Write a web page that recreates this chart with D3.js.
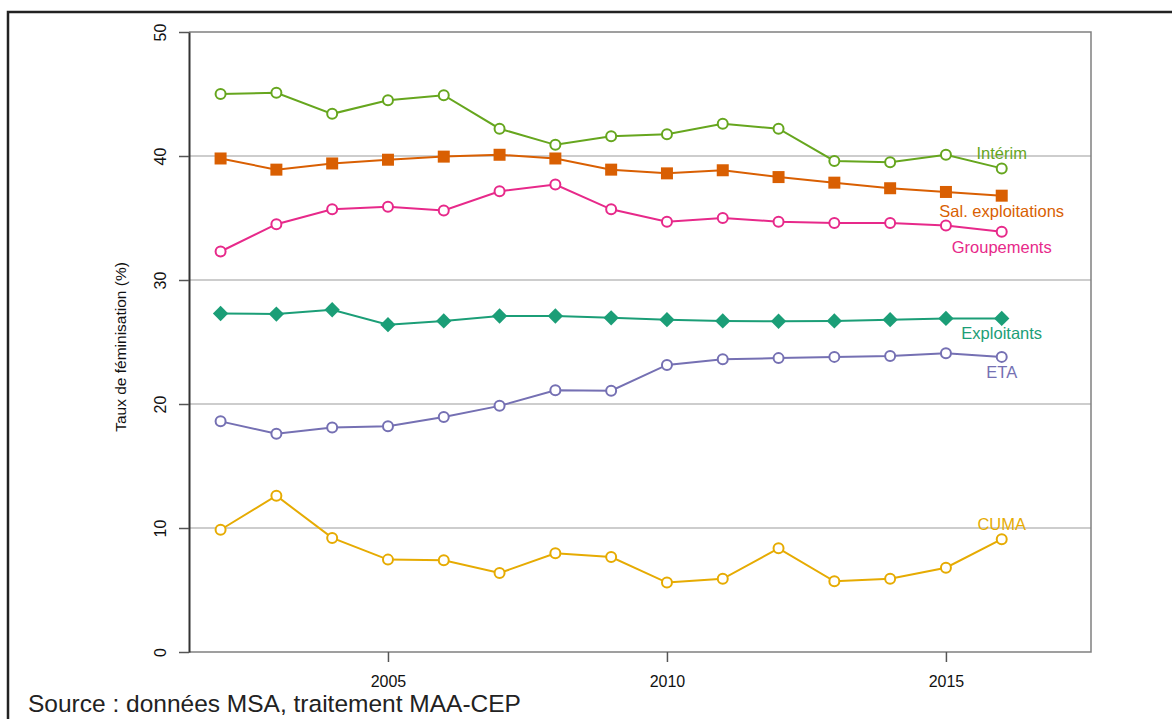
<!DOCTYPE html>
<html>
<head>
<meta charset="utf-8">
<script src="https://cdn.jsdelivr.net/npm/d3@7"></script>
<style>
  body { margin: 0; background: #fff; }
  svg { font-family: "Liberation Sans", Arial, sans-serif; }
</style>
</head>
<body>
<div id="chart"></div>
<script>
// annees et series (taux de feminisation, %)
const years = [2002, 2003, 2004, 2005, 2006, 2007, 2008, 2009, 2010, 2011, 2012, 2013, 2014, 2015, 2016];
const interim = [45.0, 45.1, 43.4, 44.5, 44.9, 42.2, 40.9, 41.6, 41.75, 42.6, 42.2, 39.6, 39.5, 40.1, 39.0];
const salExploitations = [39.8, 38.9, 39.4, 39.7, 39.95, 40.1, 39.8, 38.9, 38.6, 38.85, 38.3, 37.85, 37.4, 37.1, 36.8];
const groupements = [32.3, 34.5, 35.7, 35.9, 35.6, 37.15, 37.7, 35.7, 34.7, 35.0, 34.7, 34.6, 34.6, 34.4, 33.9];
const exploitants = [27.3, 27.25, 27.6, 26.4, 26.7, 27.1, 27.1, 26.95, 26.8, 26.7, 26.67, 26.7, 26.8, 26.9, 26.9];
const eta = [18.6, 17.6, 18.1, 18.2, 18.95, 19.85, 21.1, 21.07, 23.15, 23.6, 23.7, 23.8, 23.87, 24.1, 23.8];
const cuma = [9.86, 12.6, 9.2, 7.45, 7.4, 6.37, 7.96, 7.66, 5.6, 5.9, 8.36, 5.7, 5.9, 6.8, 9.1];

const yTicks = [0, 10, 20, 30, 40, 50];
const xTicks = [2005, 2010, 2015];

const series = [
  {name: "Intérim", values: interim, color: "#66a61e", shape: "circle", labelPos: "above"},
  {name: "Sal. exploitations", values: salExploitations, color: "#d95f02", shape: "square", labelPos: "below"},
  {name: "Groupements", values: groupements, color: "#e7298a", shape: "circle", labelPos: "below"},
  {name: "Exploitants", values: exploitants, color: "#1b9e77", shape: "diamond", labelPos: "below"},
  {name: "ETA", values: eta, color: "#7570b3", shape: "circle", labelPos: "below"},
  {name: "CUMA", values: cuma, color: "#e6ab02", shape: "circle", labelPos: "above"}
];

const width = 1172, height = 719;
const plot = {left: 189, right: 1091, top: 32, bottom: 652};

const svg = d3.select("#chart")
  .append("svg")
    .attr("width", width)
    .attr("height", height);

const x = d3.scaleLinear()
  .domain([2001.434, 2017.6])
  .range([plot.left, plot.right]);

const y = d3.scaleLinear()
  .domain([0, 50])
  .range([plot.bottom, plot.top]);

// cadre exterieur
svg.append("path")
  .attr("d", `M8,${height} L8,12 L${width},12`)
  .attr("fill", "none")
  .attr("stroke", "#222")
  .attr("stroke-width", 2.5);

// grille horizontale
svg.append("g")
  .selectAll("line")
  .data(yTicks.filter(d => d > 0 && d < 50))
  .join("line")
    .attr("x1", plot.left)
    .attr("x2", plot.right)
    .attr("y1", d => y(d))
    .attr("y2", d => y(d))
    .attr("stroke", "#bdbdbd")
    .attr("stroke-width", 1.5);

// boite du graphique
svg.append("path")
  .attr("d", `M${plot.left},${plot.top} L${plot.right},${plot.top} L${plot.right},${plot.bottom} L${plot.left},${plot.bottom}`)
  .attr("fill", "none")
  .attr("stroke", "#808080")
  .attr("stroke-width", 1.5);

// axe Y
const yAxis = svg.append("g")
  .attr("transform", `translate(${plot.left},0)`)
  .call(d3.axisLeft(y).tickValues(yTicks).tickSize(10).tickSizeOuter(0));
yAxis.select(".domain")
  .attr("stroke", "#333")
  .attr("stroke-width", 2);
yAxis.selectAll(".tick line")
  .attr("stroke", "#555")
  .attr("stroke-width", 1.5);
yAxis.selectAll(".tick text")
  .attr("x", null)
  .attr("dy", null)
  .attr("transform", "translate(-29,0) rotate(-90)")
  .attr("text-anchor", "middle")
  .attr("dominant-baseline", "central")
  .attr("fill", "#111")
  .style("font-size", "16px")
  .style("font-family", "'Liberation Sans', Arial, sans-serif");

// axe X
const xAxis = svg.append("g")
  .attr("transform", `translate(0,${plot.bottom})`)
  .call(d3.axisBottom(x).tickValues(xTicks).tickFormat(d3.format("d")).tickSize(10).tickSizeOuter(0));
xAxis.select(".domain").remove();
xAxis.selectAll(".tick line")
  .attr("stroke", "#555")
  .attr("stroke-width", 1.5);
xAxis.selectAll(".tick text")
  .attr("y", 29)
  .attr("dy", "0.35em")
  .attr("fill", "#111")
  .style("font-size", "16px")
  .style("font-family", "'Liberation Sans', Arial, sans-serif");

// titre de l'axe Y
svg.append("text")
  .attr("transform", `translate(120,${(plot.top + plot.bottom) / 2 + 5}) rotate(-90)`)
  .attr("text-anchor", "middle")
  .attr("dominant-baseline", "central")
  .attr("fill", "#111")
  .style("font-size", "15.5px")
  .text("Taux de féminisation (%)");

// courbes
const line = d3.line()
  .x((d, i) => x(years[i]))
  .y(d => y(d));

series.forEach(s => {
  const g = svg.append("g");
  g.append("path")
    .datum(s.values)
    .attr("fill", "none")
    .attr("stroke", s.color)
    .attr("stroke-width", 2)
    .attr("d", line);

  const pts = g.selectAll(".pt")
    .data(s.values)
    .join("path")
      .attr("class", "pt")
      .attr("transform", (d, i) => `translate(${x(years[i])},${y(d)})`);
  if (s.shape === "circle") {
    pts.attr("d", d3.symbol(d3.symbolCircle, Math.PI * 25))
      .attr("fill", "#fff")
      .attr("stroke", s.color)
      .attr("stroke-width", 2);
  } else if (s.shape === "square") {
    pts.attr("d", d3.symbol(d3.symbolSquare, 144))
      .attr("fill", s.color);
  } else {
    pts.attr("d", d3.symbol(d3.symbolDiamond2, 150))
      .attr("fill", s.color);
  }

  const last = s.values.length - 1;
  g.append("text")
    .attr("x", x(years[last]))
    .attr("y", y(s.values[last]) + (s.labelPos === "above" ? -15 : 15))
    .attr("text-anchor", "middle")
    .attr("dominant-baseline", "central")
    .attr("fill", s.color)
    .style("font-size", "16.5px")
    .text(s.name);
});

// source
svg.append("text")
  .attr("x", 28)
  .attr("y", 712)
  .attr("fill", "#222")
  .style("font-size", "24.5px")
  .text("Source : données MSA, traitement MAA-CEP");
</script>
</body>
</html>
